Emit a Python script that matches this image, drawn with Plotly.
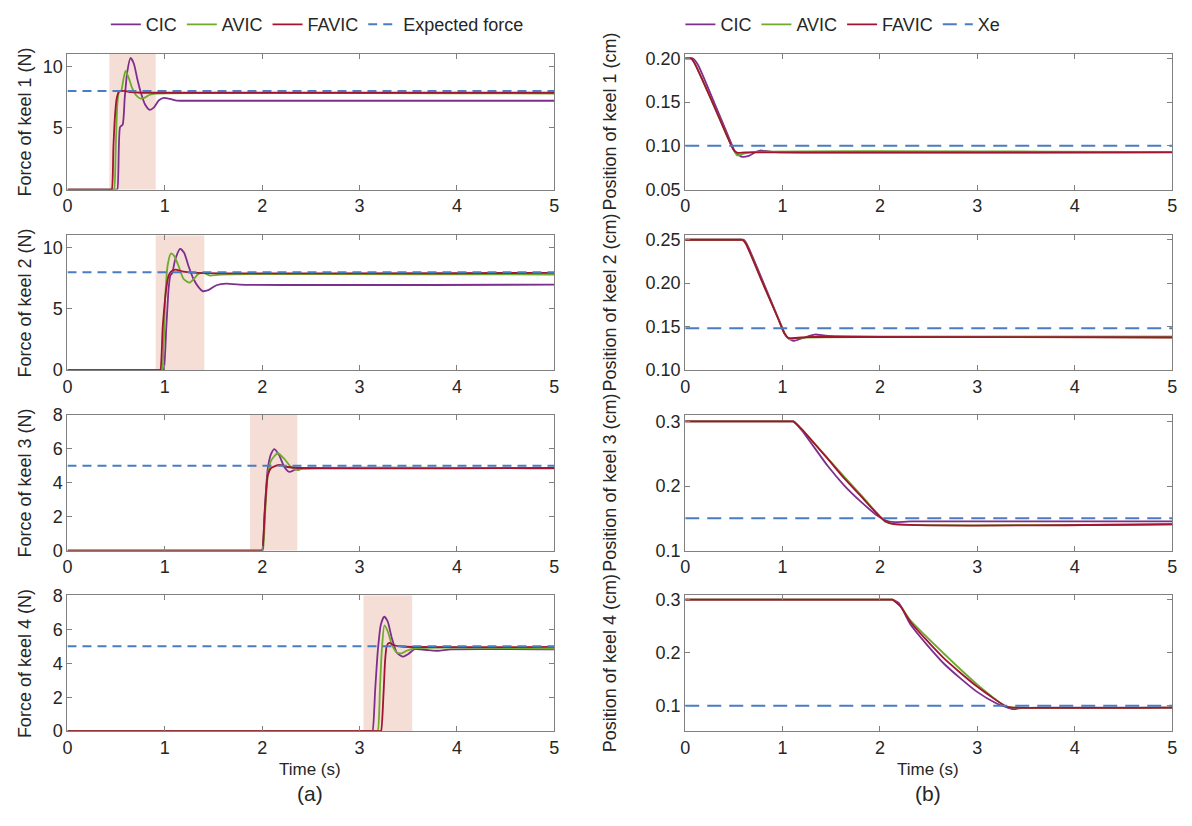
import plotly.graph_objects as go

W, H = 1192, 826

# ---------------- data ----------------
# Left column: force of keels (N)
f1_cic_t = [0, 0.50, 0.512, 0.540, 0.567, 0.588, 0.614, 0.648, 0.682, 0.716, 0.75, 0.80, 0.845, 0.886, 0.937, 0.988, 1.056, 1.123, 1.26, 5]
f1_cic_v = [0, 0, 0, 5.06, 5.27, 7.43, 9.54, 10.67, 10.2, 9.01, 7.96, 6.85, 6.46, 6.64, 7.22, 7.43, 7.35, 7.22, 7.2, 7.2]
f1_avic_t = [0, 0.47, 0.479, 0.496, 0.512, 0.53, 0.553, 0.573, 0.597, 0.631, 0.665, 0.70, 0.75, 0.80, 0.845, 0.903, 5]
f1_avic_v = [0, 0, 0, 3.48, 6.9, 7.96, 8.04, 8.88, 9.62, 9.01, 8.22, 7.69, 7.38, 7.48, 7.69, 7.78, 7.78]
f1_favic_t = [0, 0.445, 0.455, 0.472, 0.489, 0.506, 0.53, 0.58, 0.65, 0.75, 5]
f1_favic_v = [0, 0, 0, 3.5, 6.1, 7.4, 7.95, 8.0, 7.9, 7.85, 7.85]

f2_cic_t = [0, 0.978, 0.988, 1.015, 1.039, 1.056, 1.075, 1.107, 1.157, 1.198, 1.242, 1.293, 1.344, 1.388, 1.446, 1.531, 1.632, 1.768, 5]
f2_cic_v = [0, 0, 0, 3.49, 6.67, 7.72, 7.9, 9.05, 9.9, 9.58, 8.52, 7.46, 6.8, 6.45, 6.53, 6.93, 7.06, 6.98, 6.98]
f2_avic_t = [0, 0.961, 0.971, 1.005, 1.028, 1.062, 1.097, 1.14, 1.191, 1.253, 1.30, 1.344, 1.395, 1.463, 1.565, 5]
f2_avic_v = [0, 0, 0, 6.14, 8.52, 9.52, 9.31, 8.52, 7.46, 7.14, 7.46, 7.86, 7.94, 7.72, 7.8, 7.8]
f2_favic_t = [0, 0.944, 0.954, 0.978, 1.015, 1.039, 1.063, 1.107, 1.191, 1.327, 5]
f2_favic_v = [0, 0, 0, 3.49, 6.67, 7.72, 8.04, 8.2, 8.04, 7.94, 7.94]

f3_cic_t = [0, 1.99, 2.0, 2.027, 2.057, 2.091, 2.125, 2.176, 2.227, 2.278, 2.346, 2.447, 5]
f3_cic_v = [0, 0, 0, 2.53, 4.83, 5.70, 5.99, 5.6, 4.93, 4.64, 4.79, 4.87, 4.85]
f3_avic_t = [0, 1.996, 2.006, 2.033, 2.057, 2.091, 2.159, 2.227, 2.295, 2.363, 2.413, 5]
f3_avic_v = [0, 0, 0, 2.53, 4.45, 5.31, 5.74, 5.41, 4.93, 4.74, 4.83, 4.87]
f3_favic_t = [0, 1.99, 2.0, 2.023, 2.04, 2.057, 2.091, 2.176, 2.261, 2.38, 5]
f3_favic_v = [0, 0, 0, 1.96, 3.49, 4.45, 4.87, 5.06, 4.93, 4.87, 4.87]

f4_cic_t = [0, 3.123, 3.133, 3.16, 3.187, 3.218, 3.252, 3.289, 3.33, 3.381, 3.442, 3.5, 3.567, 3.703, 3.805, 3.941, 5]
f4_cic_v = [0, 0, 0, 2.44, 4.74, 6.27, 6.75, 6.46, 5.51, 4.64, 4.39, 4.55, 4.83, 4.78, 4.74, 4.82, 4.82]
f4_avic_t = [0, 3.177, 3.187, 3.211, 3.228, 3.255, 3.289, 3.33, 3.381, 3.432, 3.483, 3.55, 5]
f4_avic_v = [0, 0, 0, 2.82, 4.74, 6.23, 5.89, 5.12, 4.64, 4.59, 4.74, 4.87, 4.87]
f4_favic_t = [0, 3.21, 3.22, 3.246, 3.262, 3.279, 3.303, 3.347, 3.432, 5]
f4_favic_v = [0, 0, 0, 2.24, 4.16, 5.02, 5.20, 5.08, 4.99, 4.97]

expected_force = [8, 8, 5, 5]
shade_windows = [(0.43, 0.906), (0.906, 1.405), (1.874, 2.36), (3.04, 3.54)]

# Right column: position of keels (cm)
p1_cic_t = [0, 0.065, 0.075, 0.126, 0.295, 0.465, 0.516, 0.584, 0.652, 0.72, 0.77, 0.838, 0.923, 5]
p1_cic_v = [0.2, 0.2, 0.2, 0.1935, 0.15, 0.1048, 0.0921, 0.0874, 0.0885, 0.0928, 0.0946, 0.0939, 0.0928, 0.0928]
p1_avic_t = [0, 0.048, 0.058, 0.092, 0.278, 0.448, 0.499, 0.533, 0.601, 0.686, 5]
p1_avic_v = [0.2, 0.2, 0.2, 0.1953, 0.15, 0.1065, 0.095, 0.0891, 0.091, 0.0928, 0.0928]
p1_favic_t = [0, 0.048, 0.058, 0.092, 0.278, 0.448, 0.499, 0.533, 0.618, 5]
p1_favic_v = [0.2, 0.2, 0.2, 0.1953, 0.15, 0.1065, 0.095, 0.0921, 0.0925, 0.0925]

p2_cic_t = [0, 0.59, 0.601, 0.635, 0.804, 0.974, 1.042, 1.11, 1.195, 1.331, 1.466, 5]
p2_cic_v = [0.25, 0.25, 0.25, 0.2445, 0.2005, 0.1547, 0.1383, 0.1335, 0.1365, 0.1409, 0.1393, 0.1385]
p2_avic_t = [0, 0.574, 0.584, 0.618, 0.787, 0.957, 1.018, 1.076, 1.161, 5]
p2_avic_v = [0.25, 0.25, 0.25, 0.2464, 0.2024, 0.1585, 0.142, 0.1354, 0.1371, 0.1378]
p2_favic_t = [0, 0.574, 0.584, 0.618, 0.787, 0.957, 1.018, 1.059, 1.296, 5]
p2_favic_v = [0.25, 0.25, 0.25, 0.2464, 0.2024, 0.1585, 0.142, 0.1371, 0.1383, 0.1375]

p3_cic_t = [0, 1.10, 1.110, 1.195, 1.466, 1.636, 1.806, 1.975, 2.060, 2.145, 2.315, 5]
p3_cic_v = [0.3, 0.3, 0.3, 0.2866, 0.2305, 0.2003, 0.1754, 0.1538, 0.1466, 0.1442, 0.1451, 0.1451]
p3_avic_t = [0, 1.10, 1.110, 1.195, 1.466, 1.636, 1.806, 1.975, 2.060, 2.145, 5]
p3_avic_v = [0.3, 0.3, 0.3, 0.2881, 0.2425, 0.2137, 0.1859, 0.1571, 0.1442, 0.1408, 0.1408]
p3_favic_t = [0, 1.10, 1.110, 1.195, 1.466, 1.636, 1.806, 1.975, 2.060, 2.145, 5]
p3_favic_v = [0.3, 0.3, 0.3, 0.2881, 0.2415, 0.2113, 0.184, 0.1562, 0.1451, 0.1408, 0.1408]

p4_cic_t = [0, 2.118, 2.128, 2.196, 2.315, 2.655, 2.994, 3.198, 3.299, 3.367, 3.469, 3.673, 5]
p4_cic_v = [0.3, 0.3, 0.3, 0.2929, 0.2527, 0.1796, 0.1265, 0.1041, 0.097, 0.0935, 0.0958, 0.0964, 0.0964]
p4_avic_t = [0, 2.118, 2.128, 2.213, 2.315, 2.655, 2.994, 3.299, 3.367, 5]
p4_avic_v = [0.3, 0.3, 0.3, 0.287, 0.2604, 0.1985, 0.1407, 0.0982, 0.0964, 0.0964]
p4_favic_t = [0, 2.118, 2.128, 2.213, 2.315, 2.655, 2.994, 3.299, 3.367, 5]
p4_favic_v = [0.3, 0.3, 0.3, 0.287, 0.2575, 0.1896, 0.1365, 0.0982, 0.0964, 0.0964]

xe_values = [0.10, 0.148, 0.15, 0.10]

series_names = ["CIC", "AVIC", "FAVIC"]
series_colors = ["#7E2F8E", "#6FAA2E", "#A2142F"]
dash_color = "#4A7CC4"

force_series = [
    [(f1_cic_t, f1_cic_v), (f1_avic_t, f1_avic_v), (f1_favic_t, f1_favic_v)],
    [(f2_cic_t, f2_cic_v), (f2_avic_t, f2_avic_v), (f2_favic_t, f2_favic_v)],
    [(f3_cic_t, f3_cic_v), (f3_avic_t, f3_avic_v), (f3_favic_t, f3_favic_v)],
    [(f4_cic_t, f4_cic_v), (f4_avic_t, f4_avic_v), (f4_favic_t, f4_favic_v)],
]
pos_series = [
    [(p1_cic_t, p1_cic_v), (p1_avic_t, p1_avic_v), (p1_favic_t, p1_favic_v)],
    [(p2_cic_t, p2_cic_v), (p2_avic_t, p2_avic_v), (p2_favic_t, p2_favic_v)],
    [(p3_cic_t, p3_cic_v), (p3_avic_t, p3_avic_v), (p3_favic_t, p3_favic_v)],
    [(p4_cic_t, p4_cic_v), (p4_avic_t, p4_avic_v), (p4_favic_t, p4_favic_v)],
]

force_titles = ["Force of keel 1 (N)", "Force of keel 2 (N)", "Force of keel 3 (N)", "Force of keel 4 (N)"]
pos_titles = ["Position of keel 1 (cm)", "Position of keel 2 (cm)", "Position of keel 3 (cm)", "Position of keel 4 (cm)"]

force_ranges = [[0, 11], [0, 11], [0, 8], [0, 8]]
force_ticks = [[0, 5, 10], [0, 5, 10], [0, 2, 4, 6, 8], [0, 2, 4, 6, 8]]
pos_ranges = [[0.05, 0.205], [0.10, 0.255], [0.10, 0.31], [0.052, 0.308]]
pos_ticks = [[0.05, 0.10, 0.15, 0.20], [0.10, 0.15, 0.20, 0.25], [0.1, 0.2, 0.3], [0.1, 0.2, 0.3]]
pos_fmt = [".2f", ".2f", ".1f", ".1f"]
x_ticks = [0, 1, 2, 3, 4, 5]

# ---------------- layout geometry (pixels) ----------------
col_x = [(63, 554), (686, 1177)]
row_y = [(45, 184), (231, 369), (415, 554), (600, 739)]

FONT = "Liberation Sans, Arial, sans-serif"
TXT = "#262626"
AX = "#808080"

fig = go.Figure()
layout = {}
shapes = []
annotations = []

def axis_id(n):
    return "" if n == 1 else str(n)

n = 0
for col in range(2):
    for row in range(4):
        n += 1
        aid = axis_id(n)
        xa, ya = "x" + aid, "y" + aid
        x0, x1 = col_x[col]
        yt, yb = row_y[row]
        layout["xaxis" + aid] = dict(
            domain=[x0 / W, x1 / W], anchor=ya, range=[0, 5],
            tickvals=x_ticks, ticks="inside", ticklen=5, tickcolor=AX,
            showline=True, linecolor=AX, linewidth=1, mirror="ticks",
            showgrid=False, zeroline=False,
            tickfont=dict(family=FONT, size=18, color=TXT),
        )
        if col == 0:
            rng, tv, fmt = force_ranges[row], force_ticks[row], ""
        else:
            rng, tv, fmt = pos_ranges[row], pos_ticks[row], pos_fmt[row]
        layout["yaxis" + aid] = dict(
            domain=[1 - yb / H, 1 - yt / H], anchor=xa, range=rng,
            tickvals=tv, tickformat=fmt, ticks="inside", ticklen=5, tickcolor=AX,
            showline=True, linecolor=AX, linewidth=1, mirror="ticks",
            showgrid=False, zeroline=False,
            tickfont=dict(family=FONT, size=18, color=TXT),
        )
        legend_name = "legend" if col == 0 else "legend2"
        if col == 0:
            ws, we = shade_windows[row]
            shapes.append(dict(type="rect", xref=xa, yref=ya + " domain",
                               x0=ws, x1=we, y0=0, y1=1,
                               fillcolor="rgb(244,222,213)", line=dict(width=0),
                               layer="below"))
            data = force_series[row]
            ref_val = expected_force[row]
            ref_name = "Expected force"
            dash = "9px,6px"
        else:
            data = pos_series[row]
            ref_val = xe_values[row]
            ref_name = "Xe"
            dash = "14px,8px"
        for k, (tt, vv) in enumerate(data):
            fig.add_trace(go.Scatter(
                x=tt, y=vv, mode="lines", name=series_names[k],
                line=dict(color=series_colors[k], width=1.8, shape="spline", smoothing=0.6),
                xaxis=xa, yaxis=ya, legend=legend_name,
                showlegend=(row == 0), legendrank=k + 1,
            ))
        fig.add_trace(go.Scatter(
            x=[0, 5], y=[ref_val, ref_val], mode="lines", name=ref_name,
            line=dict(color=dash_color, width=2, dash=dash),
            xaxis=xa, yaxis=ya, legend=legend_name,
            showlegend=(row == 0), legendrank=4,
        ))
        # y title
        title = force_titles[row] if col == 0 else pos_titles[row]
        tx = 20 if col == 0 else 610
        annotations.append(dict(
            text=title, x=tx / W, y=1 - (yt + yb) / 2 / H, xref="paper", yref="paper",
            textangle=-90, showarrow=False, xanchor="center", yanchor="middle",
            font=dict(family=FONT, size=18, color=TXT),
        ))

# x titles and panel labels
for cx, lab in [(308, "(a)"), (931, "(b)")]:
    annotations.append(dict(text="Time (s)", x=cx / W, y=1 - 778 / H, xref="paper", yref="paper",
                            showarrow=False, xanchor="center", yanchor="middle",
                            font=dict(family=FONT, size=17, color=TXT)))
    annotations.append(dict(text=lab, x=cx / W, y=1 - 803 / H, xref="paper", yref="paper",
                            showarrow=False, xanchor="center", yanchor="middle",
                            font=dict(family=FONT, size=21, color=TXT)))

legend_common = dict(orientation="h", yanchor="middle", xanchor="center",
                     bgcolor="rgba(0,0,0,0)", font=dict(family=FONT, size=18, color=TXT),
                     itemwidth=30, tracegroupgap=0)
layout["legend"] = dict(x=315 / W, y=1 - 15 / H, **legend_common)
layout["legend2"] = dict(x=845 / W, y=1 - 15 / H, **legend_common)

fig.update_layout(
    width=W, height=H, margin=dict(l=0, r=0, t=0, b=0),
    paper_bgcolor="white", plot_bgcolor="white",
    shapes=shapes, annotations=annotations, **layout,
)

fig.write_html("out.html")
